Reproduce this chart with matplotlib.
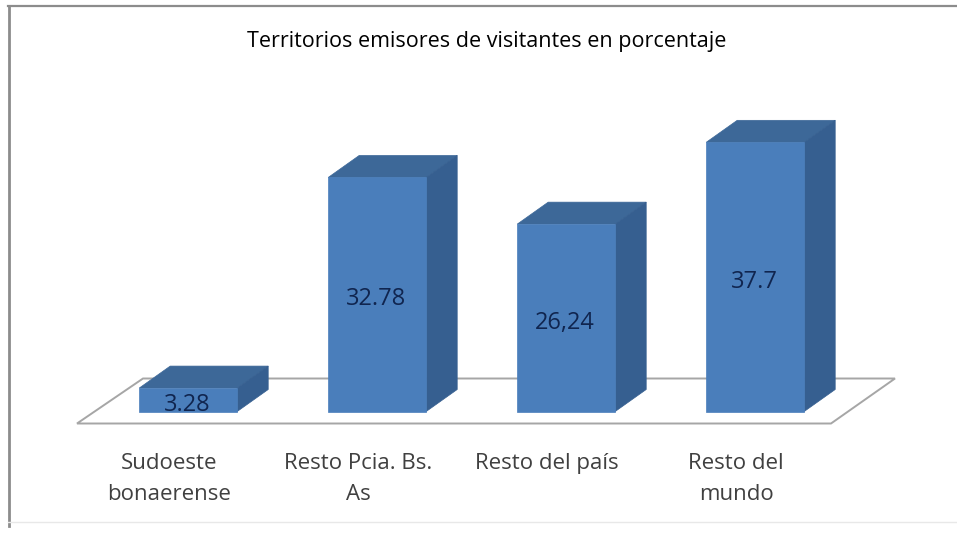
import matplotlib
matplotlib.use('Agg')
import matplotlib.pyplot as plt
from matplotlib.patches import Polygon

title = 'Territorios emisores de visitantes en porcentaje'
categorias = ['Sudoeste\nbonaerense', 'Resto Pcia. Bs.\nAs', 'Resto del país', 'Resto del\nmundo']
valores = [3.28, 32.78, 26.24, 37.7]
etiquetas = ['3.28', '32.78', '26,24', '37.7']

W, H = 957, 533
BASE_PX = 411.5     # pixel row of the value 0
ESCALA = 7.14       # pixels per percentage point
PASO = 189          # pixels between categories
X0 = 188.2          # pixel column of the first category

fig = plt.figure(figsize=(W / 100, H / 100), dpi=100)
ax = fig.add_axes([0, 0, 1, 1])
ax.set_xlim(-X0 / PASO, (W - X0) / PASO)
ax.set_ylim((BASE_PX - H) / ESCALA, BASE_PX / ESCALA)
ax.axis('off')

ancho = 98 / PASO
dx = 31 / PASO      # depth of the 3d bars
dy = 22 / ESCALA

# floor
suelo_x = [x / PASO for x in (77 - X0, 831 - X0, 895 - X0, 143 - X0)]
suelo_y = [(BASE_PX - y) / ESCALA for y in (423.5, 423.5, 378.5, 378.5)]
ax.add_patch(Polygon(list(zip(suelo_x, suelo_y)), closed=True, fc='white', ec='#a6a6a6', lw=1.4))

frente = '#4a7ebb'
arriba = '#3d6898'
lado = '#365f90'

for i, v in enumerate(valores):
    x0 = i - ancho / 2
    x1 = i + ancho / 2
    ax.add_patch(Polygon([(x0, v), (x1, v), (x1 + dx, v + dy), (x0 + dx, v + dy)], fc=arriba, ec=arriba, lw=0.5))
    ax.add_patch(Polygon([(x1, 0), (x1 + dx, dy), (x1 + dx, v + dy), (x1, v)], fc=lado, ec=lado, lw=0.5))
    ax.bar(i, v, width=ancho, color=frente, edgecolor=frente, linewidth=0.5)
    ax.text(i - 0.005, v / 2 - 0.7, etiquetas[i], ha='center', va='center', fontsize=17,
            color='#10254f', family='Open Sans')
    ax.text(i - 0.1, -5.8, categorias[i], ha='center', va='top', fontsize=16,
            color='#404040', family='Open Sans', linespacing=1.6)

ax.text(487 / W, 1 - 41 / H, title, transform=ax.transAxes, ha='center', va='center', fontsize=15.5,
        color='black', family='Open Sans')

# outer frame of the chart
ax.plot([8.5 / W, 8.5 / W], [1 - 6 / H, 1 - 526 / H], transform=ax.transAxes, color='#8c8c8c', lw=2)
ax.plot([8 / W, 1], [1 - 6 / H, 1 - 6 / H], transform=ax.transAxes, color='#8c8c8c', lw=1.6)
ax.plot([8 / W, 1], [1 - 522 / H, 1 - 522 / H], transform=ax.transAxes, color='#e8e8e8', lw=1)

fig.savefig('out.png', dpi=100)
